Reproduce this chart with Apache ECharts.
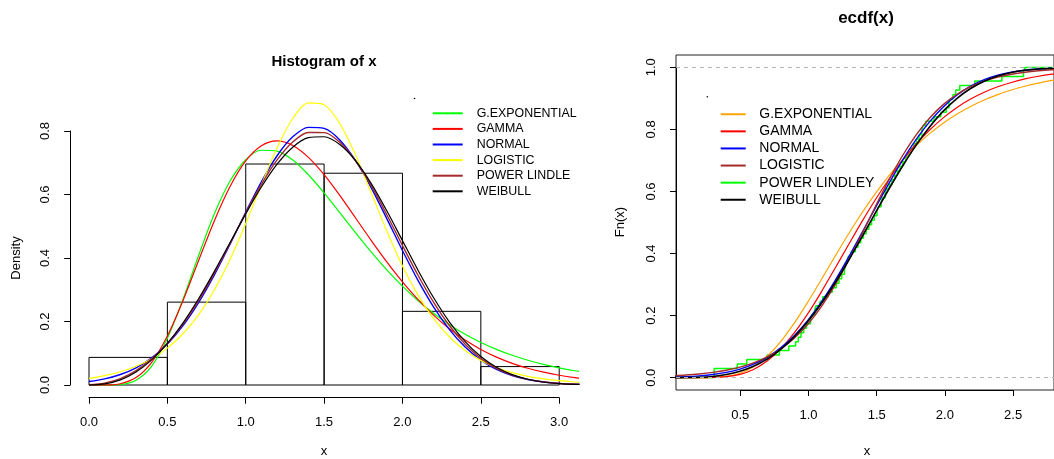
<!DOCTYPE html>
<html>
<head>
<meta charset="utf-8">
<script src="https://cdn.jsdelivr.net/npm/echarts@6/dist/echarts.min.js"></script>
<style>
html,body{margin:0;padding:0;background:#fff;}
#chart{width:1054px;height:459px;}
</style>
</head>
<body>
<div id="chart"></div>
<script>
// ---------- DATA ----------
const histBreaks = [0, 0.5, 1.0, 1.5, 2.0, 2.5, 3.0];
const histDensity = [0.087, 0.261, 0.696, 0.667, 0.232, 0.058];

const pdfX = [0,0.1,0.2,0.3,0.4,0.5,0.6,0.7,0.8,0.9,1.0,1.1,1.2,1.3,1.4,1.5,1.6,1.7,1.8,1.9,2.0,2.1,2.2,2.3,2.4,2.5,2.6,2.7,2.8,2.9,3.0,3.1,3.2];
const gexpPdf = [0,0.0000,0.0016,0.0150,0.0596,0.1471,0.2704,0.4089,0.5391,0.6423,0.7095,0.7394,0.7366,0.7084,0.6621,0.6050,0.5428,0.4800,0.4192,0.3627,0.3112,0.2653,0.2250,0.1900,0.1598,0.1340,0.1122,0.0936,0.0781,0.0650,0.0540,0.0449,0.0373];
const gammaPdf = [0,0.0001,0.0040,0.0233,0.0716,0.1546,0.2663,0.3929,0.5176,0.6254,0.7057,0.7534,0.7686,0.7544,0.7169,0.6623,0.5970,0.5267,0.4558,0.3879,0.3251,0.2688,0.2194,0.1771,0.1415,0.1119,0.0878,0.0683,0.0527,0.0404,0.0308,0.0233,0.0175];
const normalPdf = [0.0109,0.0193,0.0331,0.0543,0.0856,0.1293,0.1873,0.2604,0.3470,0.4437,0.5441,0.6400,0.7221,0.7816,0.8115,0.8081,0.7720,0.7073,0.6217,0.5240,0.4237,0.3287,0.2446,0.1746,0.1195,0.0784,0.0494,0.0299,0.0173,0.0096,0.0051,0.0026,0.0013];
const logisticPdf = [0.0206,0.0293,0.0416,0.0589,0.0830,0.1162,0.1614,0.2215,0.2992,0.3957,0.5087,0.6306,0.7471,0.8393,0.8883,0.8827,0.8238,0.7250,0.6060,0.4850,0.3749,0.2822,0.2082,0.1513,0.1087,0.0775,0.0549,0.0388,0.0273,0.0192,0.0135,0.0095,0.0066];
const plindleyPdf = [0.0010,0.0060,0.0200,0.0450,0.0824,0.1300,0.1916,0.2664,0.3525,0.4462,0.5416,0.6318,0.7088,0.7653,0.7952,0.7950,0.7647,0.7071,0.6285,0.5363,0.4392,0.3448,0.2593,0.1865,0.1281,0.0840,0.0525,0.0313,0.0177,0.0095,0.0049,0.0024,0.0011];
const weibullPdf = [0,0.0033,0.0162,0.0411,0.0792,0.1310,0.1959,0.2724,0.3580,0.4486,0.5391,0.6235,0.6955,0.7490,0.7789,0.7819,0.7573,0.7069,0.6352,0.5486,0.4547,0.3609,0.2739,0.1983,0.1367,0.0895,0.0556,0.0326,0.0181,0.0094,0.0046,0.0021,0.0009];

const cdfX = [0,0.1,0.2,0.3,0.4,0.5,0.6,0.7,0.8,0.9,1.0,1.1,1.2,1.3,1.4,1.5,1.6,1.7,1.8,1.9,2.0,2.1,2.2,2.3,2.4,2.5,2.6,2.7,2.8,2.9];
const gexpCdf = [0,0,0.0000,0.0007,0.0041,0.0141,0.0347,0.0686,0.1162,0.1755,0.2435,0.3162,0.3903,0.4628,0.5313,0.5948,0.6522,0.7034,0.7483,0.7874,0.8210,0.8498,0.8742,0.8949,0.9124,0.9270,0.9393,0.9495,0.9581,0.9653];
const gammaCdf = [0,0,0.0000,0.0007,0.0030,0.0105,0.0262,0.0533,0.0926,0.1440,0.2060,0.2765,0.3519,0.4282,0.5036,0.5750,0.6410,0.7012,0.7540,0.7990,0.8380,0.8710,0.8980,0.9200,0.9375,0.9515,0.9628,0.9716,0.9784,0.9836];
const normalCdf = [0.0017,0.0031,0.0057,0.0100,0.0169,0.0275,0.0433,0.0655,0.0958,0.1352,0.1846,0.2439,0.3121,0.3876,0.4675,0.5487,0.6280,0.7022,0.7687,0.8261,0.8735,0.9110,0.9396,0.9604,0.9750,0.9847,0.9910,0.9949,0.9972,0.9986];
const logisticCdf = [0.0058,0.0083,0.0118,0.0168,0.0238,0.0337,0.0474,0.0664,0.0923,0.1269,0.1720,0.2290,0.2979,0.3775,0.4643,0.5534,0.6391,0.7168,0.7834,0.8379,0.8808,0.9135,0.9378,0.9557,0.9686,0.9778,0.9844,0.9890,0.9923,0.9946];
const weibullCdf = [0,0.0001,0.0010,0.0037,0.0097,0.0201,0.0363,0.0596,0.0911,0.1314,0.1808,0.2390,0.3051,0.3775,0.4541,0.5324,0.6096,0.6830,0.7503,0.8095,0.8597,0.9005,0.9321,0.9556,0.9723,0.9835,0.9906,0.9950,0.9974,0.9988];

// sorted sample behind the empirical CDF
const sample = [0.31,0.31,0.48,0.55,0.70,0.79,0.86,0.91,0.93,0.95,0.97,0.99,1.02,1.03,1.05,1.06,1.09,1.11,1.15,1.18,1.21,1.23,1.25,1.27,1.28,1.29,1.30,1.32,1.35,1.37,1.39,1.41,1.43,1.45,1.47,1.49,1.51,1.52,1.54,1.55,1.57,1.58,1.60,1.62,1.64,1.66,1.68,1.70,1.72,1.74,1.76,1.78,1.80,1.82,1.84,1.85,1.87,1.93,1.98,2.02,2.04,2.05,2.07,2.09,2.12,2.23,2.43,2.59,2.60];

const histTicks = [0, 0.5, 1.0, 1.5, 2.0, 2.5, 3.0];
const histYTicks = [0, 0.2, 0.4, 0.6, 0.8];
const ecdfXTicks = [0.5, 1.0, 1.5, 2.0, 2.5];
const ecdfYTicks = [0, 0.2, 0.4, 0.6, 0.8, 1.0];

const leftNames = ['G.EXPONENTIAL','GAMMA','NORMAL','LOGISTIC','POWER LINDLEY','WEIBULL'];
const rightNames = ['G.EXPONENTIAL','GAMMA','NORMAL','LOGISTIC','POWER LINDLEY','WEIBULL'];

// ---------- LAYOUT ----------
const FONT = '"Liberation Sans", Arial, Helvetica, sans-serif';
const L_XMIN = -0.12, L_XMAX = 3.12, L_YMIN = -0.04, L_YMAX = 1.0;
const R_XMIN = 0.0286, R_XMAX = 2.8145, R_YMIN = -0.04, R_YMAX = 1.04;

const zip = (xs, ys) => xs.map((x, i) => [x, ys[i]]);
const fmt1 = v => Number(v).toFixed(1);

const ecdfData = [[R_XMIN, 0]].concat(sample.map((v, i) => [v, (i + 1) / sample.length]));
ecdfData.push([R_XMAX + 0.1, 1]);

function curve(name, xs, ys, color, xi, yi, width) {
  return {
    name: name, type: 'line', xAxisIndex: xi, yAxisIndex: yi,
    data: zip(xs, ys), showSymbol: false, smooth: 0.3, color: color,
    itemStyle: {color: color},
    lineStyle: {color: color, width: width || 1.2}, silent: true, z: 3
  };
}

const axisCommon = {
  axisLine: {show: true, lineStyle: {color: '#000', width: 1}},
  axisTick: {show: true, length: 6, lineStyle: {color: '#000', width: 1}},
  splitLine: {show: false}
};

const option = {
  animation: false,
  backgroundColor: '#fff',
  grid: [
    {left: 70.2, top: 67.5, width: 507.8, height: 330.2},
    {left: 89, top: 390, width: 470.1, height: 7.7},
    {left: 70.2, top: 131, width: 10, height: 254},
    {left: 676, top: 55, width: 380, height: 335, show: true, borderColor: '#222', borderWidth: 1, backgroundColor: 'transparent'},
    {left: 740.3, top: 380, width: 272.8, height: 10},
    {left: 676, top: 67.3, width: 10, height: 310.4}
  ],
  xAxis: [
    {gridIndex: 0, type: 'value', min: L_XMIN, max: L_XMAX, show: false},
    Object.assign({}, axisCommon, {gridIndex: 1, type: 'value', min: histTicks[0], max: histTicks[histTicks.length-1], interval: 0.5,
      axisLabel: {formatter: fmt1, fontSize: 13, color: '#000', fontFamily: FONT, margin: 18.5}}),
    {gridIndex: 2, type: 'value', min: 0, max: 1, show: false},
    {gridIndex: 3, type: 'value', min: R_XMIN, max: R_XMAX, show: false},
    Object.assign({}, axisCommon, {gridIndex: 4, type: 'value', min: ecdfXTicks[0], max: ecdfXTicks[ecdfXTicks.length-1], interval: 0.5,
      axisLabel: {formatter: fmt1, fontSize: 13, color: '#000', fontFamily: FONT, margin: 18.5}}),
    {gridIndex: 5, type: 'value', min: 0, max: 1, show: false}
  ],
  yAxis: [
    {gridIndex: 0, type: 'value', min: L_YMIN, max: L_YMAX, show: false},
    {gridIndex: 1, type: 'value', min: 0, max: 1, show: false},
    Object.assign({}, axisCommon, {gridIndex: 2, type: 'value', min: histYTicks[0], max: histYTicks[histYTicks.length-1], interval: 0.2,
      axisLabel: {formatter: fmt1, rotate: 90, fontSize: 13, color: '#000', fontFamily: FONT, margin: 18}}),
    {gridIndex: 3, type: 'value', min: R_YMIN, max: R_YMAX, show: false},
    {gridIndex: 4, type: 'value', min: 0, max: 1, show: false},
    Object.assign({}, axisCommon, {gridIndex: 5, type: 'value', min: ecdfYTicks[0], max: ecdfYTicks[ecdfYTicks.length-1], interval: 0.2,
      axisLabel: {formatter: fmt1, rotate: 90, fontSize: 13, color: '#000', fontFamily: FONT, margin: 18}})
  ],
  legend: [
    {orient: 'vertical', left: 432.7, top: 105.5, padding: 0, itemWidth: 30, itemHeight: 2, itemGap: 0, icon: 'rect',
     selectedMode: false, data: leftNames,
     textStyle: {fontSize: 12.4, fontFamily: FONT, color: '#000', lineHeight: 15.6, padding: [0,0,0,9], width: 102.5, overflow: 'truncate', ellipsis: ''}},
    {orient: 'vertical', left: 720.7, top: 105.7, padding: 0, itemWidth: 25, itemHeight: 2, itemGap: 0, icon: 'rect',
     selectedMode: false, data: rightNames.map(n => n + ' (cdf)'),
     formatter: n => n.replace(' (cdf)', ''),
     textStyle: {fontSize: 14, fontFamily: FONT, color: '#000', lineHeight: 17.1, padding: [0,0,0,8.6]}}
  ],
  graphic: [
    {type: 'text', x: 324, y: 62, style: {text: 'Histogram of x', font: 'bold 15px ' + FONT, fill: '#000', align: 'center', verticalAlign: 'middle'}},
    {type: 'text', x: 866, y: 18, style: {text: 'ecdf(x)', font: 'bold 17px ' + FONT, fill: '#000', align: 'center', verticalAlign: 'middle'}},
    {type: 'text', x: 324, y: 451, style: {text: 'x', font: '13px ' + FONT, fill: '#000', align: 'center', verticalAlign: 'middle'}},
    {type: 'text', x: 867, y: 451, style: {text: 'x', font: '13px ' + FONT, fill: '#000', align: 'center', verticalAlign: 'middle'}},
    {type: 'text', x: 16, y: 258, rotation: Math.PI / 2, style: {text: 'Density', font: '13px ' + FONT, fill: '#000', align: 'center', verticalAlign: 'middle'}},
    {type: 'text', x: 620, y: 222, rotation: Math.PI / 2, style: {text: 'Fn(x)', font: '13px ' + FONT, fill: '#000', align: 'center', verticalAlign: 'middle'}},
    {type: 'circle', shape: {cx: 414.5, cy: 98.5, r: 0.8}, style: {fill: '#000'}},
    {type: 'circle', shape: {cx: 707.3, cy: 96.7, r: 0.8}, style: {fill: '#000'}}
  ],
  series: [
    {
      name: 'hist', type: 'custom', xAxisIndex: 0, yAxisIndex: 0, silent: true, z: 1,
      data: histDensity.map((d, i) => [histBreaks[i], histBreaks[i + 1], d]),
      renderItem: function (params, api) {
        const p0 = api.coord([api.value(0), 0]);
        const p1 = api.coord([api.value(1), api.value(2)]);
        return {type: 'rect', shape: {x: p0[0], y: p1[1], width: p1[0] - p0[0], height: p0[1] - p1[1]},
                style: {fill: 'none', stroke: '#000', lineWidth: 1}};
      }
    },
    curve('G.EXPONENTIAL', pdfX, gexpPdf, '#00ff00', 0, 0),
    curve('GAMMA', pdfX, gammaPdf, '#ff0000', 0, 0),
    curve('NORMAL', pdfX, normalPdf, '#0000ff', 0, 0, 1.4),
    curve('LOGISTIC', pdfX, logisticPdf, '#ffff00', 0, 0),
    curve('POWER LINDLEY', pdfX, plindleyPdf, '#a52a2a', 0, 0, 1.4),
    curve('WEIBULL', pdfX, weibullPdf, '#000000', 0, 0),
    {
      name: 'POWER LINDLEY (cdf)', type: 'line', xAxisIndex: 3, yAxisIndex: 3, step: 'end',
      data: ecdfData, showSymbol: false, color: '#00ff00', itemStyle: {color: '#00ff00'},
      lineStyle: {color: '#00ff00', width: 1.5}, silent: true, z: 2,
      markLine: {silent: true, symbol: 'none', label: {show: false},
        lineStyle: {color: '#b3b3b3', type: [4, 4], width: 1},
        data: [{yAxis: 0}, {yAxis: 1}]}
    },
    curve('G.EXPONENTIAL (cdf)', cdfX, gexpCdf, '#ffa500', 3, 3),
    curve('GAMMA (cdf)', cdfX, gammaCdf, '#ff0000', 3, 3),
    curve('NORMAL (cdf)', cdfX, normalCdf, '#0000ff', 3, 3, 1.4),
    curve('LOGISTIC (cdf)', cdfX, logisticCdf, '#a52a2a', 3, 3, 1.4),
    curve('WEIBULL (cdf)', cdfX, weibullCdf, '#000000', 3, 3, 1.6)
  ]
};

const chart = echarts.init(document.getElementById('chart'), null, {renderer: 'canvas'});
chart.setOption(option);
</script>
</body>
</html>
